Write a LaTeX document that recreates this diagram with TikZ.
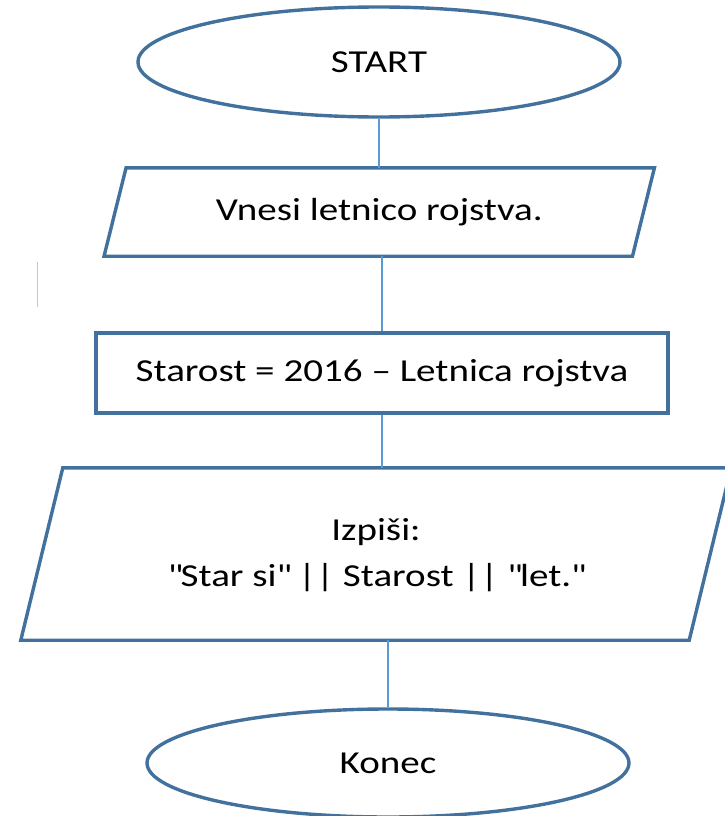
\documentclass[tikz,border=0pt]{standalone}
\usepackage{fontspec}
\setmainfont{Carlito}[FakeStretch=1.22]
\usetikzlibrary{shapes.geometric}
\definecolor{outl}{HTML}{41719C}
\definecolor{conn}{HTML}{5B9BD5}
\definecolor{caret}{HTML}{C8C8C8}
\tikzset{
  term/.style={ellipse, draw=outl, line width=3.4pt, inner sep=0pt,
    minimum width=482pt, minimum height=110pt, font=\fontsize{32}{46}\selectfont},
  procbox/.style={rectangle, draw=outl, line width=3.4pt, inner sep=0pt,
    minimum width=572pt, minimum height=80pt, font=\fontsize{32}{46}\selectfont},
  iobox/.style={rectangle, draw=none, inner sep=0pt, align=center,
    font=\fontsize{32}{46}\selectfont},
  para/.style={draw=outl, line width=3.4pt, line join=miter},
  link/.style={draw=conn, line width=1.4pt}
}
\begin{document}
\begin{tikzpicture}[x=1pt,y=-1pt]
\useasboundingbox (0,0) rectangle (725,816);
% nodes
\node[term] (start) at (379,62) {START};
\node[iobox, minimum width=528pt, minimum height=88pt] (p1) at (379.25,212) {Vnesi letnico rojstva.};
\node[procbox] (r) at (382,373) {Starost = 2016 -- Letnica rojstva};
\node[iobox, minimum width=668pt, minimum height=172pt] (p2) at (376,554)
  {\raisebox{-6pt}{\begin{tabular}{@{}c@{}}Izpiši:\\\textquotedbl Star si\textquotedbl{} || Starost || \textquotedbl let.\textquotedbl\end{tabular}}};
\node[term, minimum height=108pt] (k) at (388,763) {Konec};
% parallelogram outlines
\draw[para] ([xshift=11pt]p1.north west) -- ([xshift=11pt]p1.north east)
  -- ([xshift=-11pt]p1.south east) -- ([xshift=-11pt]p1.south west) -- cycle;
\draw[para] ([xshift=21pt]p2.north west) -- ([xshift=21pt]p2.north east)
  -- ([xshift=-21pt]p2.south east) -- ([xshift=-21pt]p2.south west) -- cycle;
% connectors
\draw[link] (start.south) -- (start.south |- p1.north);
\draw[link] (r.north |- p1.south) -- (r.north);
\draw[link] (r.south) -- (r.south |- p2.north);
\draw[link] (k.north |- p2.south) -- (k.north);
% caret mark
\draw[caret, line width=1pt] (37,262) -- (37,307);
\end{tikzpicture}
\end{document}
